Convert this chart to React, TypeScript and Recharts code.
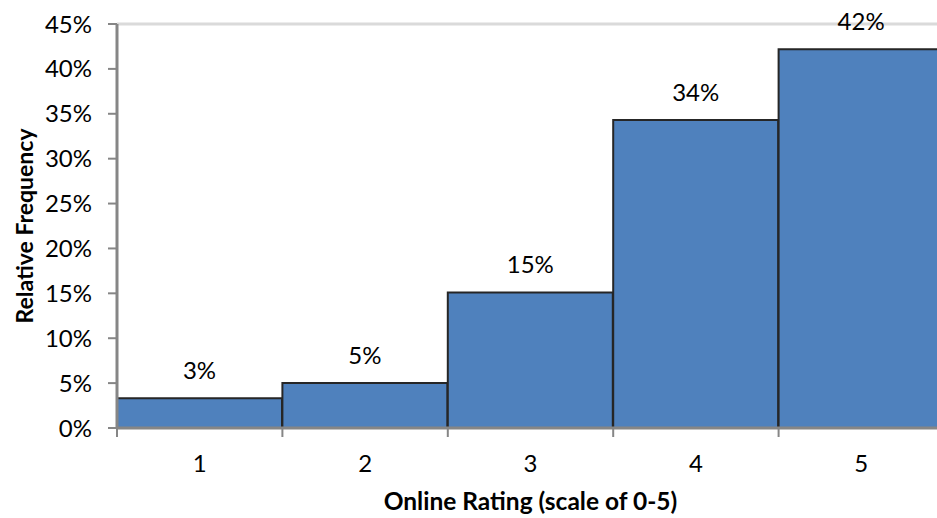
import { Bar, BarChart, LabelList, ReferenceLine, XAxis, YAxis } from "recharts"

const ratings = ["1", "2", "3", "4", "5"]
const relativeFrequency = [0.033, 0.05, 0.151, 0.343, 0.422]
const yTicks = [0, 0.05, 0.1, 0.15, 0.2, 0.25, 0.3, 0.35, 0.4, 0.45]

const data = ratings.map((rating, i) => ({ rating, freq: relativeFrequency[i] }))

const FONT = "Lato, 'Open Sans', sans-serif"
const AXIS_GRAY = "#868686"

const pct = (v: number) => `${Math.round(v * 100)}%`

// Category tick: label in the middle, tick marks on the bin edges
function EdgeTick(props: any) {
  const { x, y, payload, width, visibleTicksCount, index } = props
  const band = width / visibleTicksCount
  const left = x - band / 2
  const right = x + band / 2
  return (
    <g>
      <line x1={left} x2={left} y1={y} y2={y + 9} stroke={AXIS_GRAY} strokeWidth={2} />
      {index === visibleTicksCount - 1 && (
        <line x1={right} x2={right} y1={y} y2={y + 9} stroke={AXIS_GRAY} strokeWidth={2} />
      )}
      <text x={x} y={y + 44} textAnchor="middle" fontSize={24} fontFamily={FONT} fill="#000">
        {payload.value}
      </text>
    </g>
  )
}

function YTitle({ viewBox }: any) {
  const cx = viewBox.x + 24
  const cy = viewBox.y + viewBox.height / 2
  return (
    <text
      x={cx}
      y={cy}
      transform={`rotate(-90, ${cx}, ${cy})`}
      textAnchor="middle"
      dominantBaseline="central"
      fontSize={23}
      fontWeight={700}
      fontFamily={FONT}
      fill="#000"
    >
      Relative Frequency
    </text>
  )
}

function XTitle({ viewBox }: any) {
  return (
    <text
      x={viewBox.x + viewBox.width / 2}
      y={viewBox.y + 82}
      textAnchor="middle"
      fontSize={24.5}
      fontWeight={700}
      fontFamily={FONT}
      fill="#000"
    >
      Online Rating (scale of 0-5)
    </text>
  )
}

export default function App() {
  return (
    <div style={{ position: "absolute", left: 0, top: 0, width: 937, height: 518, overflow: "hidden", background: "#fff" }}>
      <BarChart
        width={960}
        height={518}
        data={data}
        margin={{ top: 24, right: 16, bottom: 0, left: 0 }}
        barCategoryGap={0}
        barGap={0}
      >
        <ReferenceLine y={0.45} stroke="#dadada" strokeWidth={3} />
        <XAxis
          dataKey="rating"
          height={90}
          tickLine={false}
          tickSize={0}
          tickMargin={0}
          axisLine={{ stroke: AXIS_GRAY, strokeWidth: 3 }}
          tick={<EdgeTick />}
          interval={0}
          label={{ content: <XTitle /> }}
        />
        <YAxis
          width={117}
          domain={[0, 0.45]}
          ticks={yTicks}
          tickFormatter={pct}
          tickSize={9}
          tickMargin={16}
          axisLine={{ stroke: AXIS_GRAY, strokeWidth: 3 }}
          tickLine={{ stroke: AXIS_GRAY, strokeWidth: 2 }}
          tick={{ fontSize: 24, fontFamily: FONT, fill: "#000" }}
          label={{ content: <YTitle /> }}
        />
        <Bar dataKey="freq" fill="#4F81BD" stroke="#262626" strokeWidth={2} isAnimationActive={false}>
          <LabelList
            dataKey="freq"
            position="top"
            offset={19}
            formatter={(v: any) => pct(Number(v))}
            style={{ fontSize: 24, fontFamily: FONT, fill: "#000" }}
          />
        </Bar>
      </BarChart>
    </div>
  )
}
